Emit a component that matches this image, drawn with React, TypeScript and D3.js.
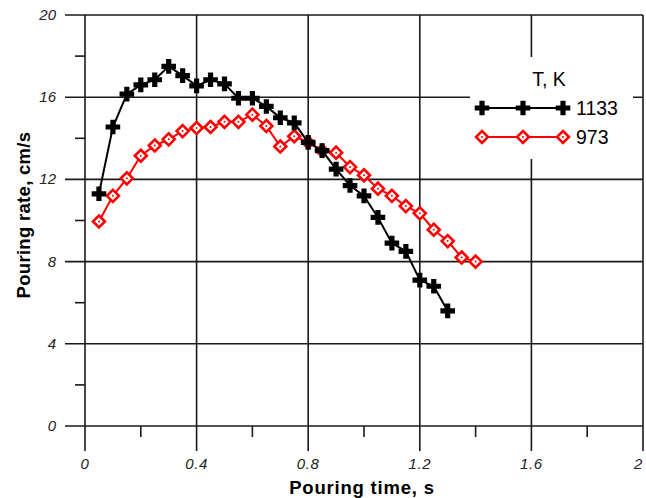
import React from "react";
import * as d3 from "d3";

const timeTicks = [0, 0.4, 0.8, 1.2, 1.6, 2];
const timeMinor = [0.2, 0.6, 1.0, 1.4, 1.8];
const rateTicks = [0, 4, 8, 12, 16, 20];
const rateMinor = [2, 6, 10, 14, 18];

const time1133 = [0.05, 0.1, 0.15, 0.2, 0.25, 0.3, 0.35, 0.4, 0.45, 0.5, 0.55, 0.6, 0.65, 0.7, 0.75, 0.8, 0.85, 0.9, 0.95, 1.0, 1.05, 1.1, 1.15, 1.2, 1.25, 1.3];
const rate1133 = [11.3, 14.55, 16.15, 16.6, 16.85, 17.5, 17.05, 16.55, 16.85, 16.65, 15.95, 15.95, 15.55, 15.0, 14.75, 13.8, 13.4, 12.5, 11.7, 11.2, 10.15, 8.9, 8.5, 7.1, 6.8, 5.6];

const time973 = [0.05, 0.1, 0.15, 0.2, 0.25, 0.3, 0.35, 0.4, 0.45, 0.5, 0.55, 0.6, 0.65, 0.7, 0.75, 0.8, 0.85, 0.9, 0.95, 1.0, 1.05, 1.1, 1.15, 1.2, 1.25, 1.3, 1.35, 1.4];
const rate973 = [9.95, 11.2, 12.05, 13.15, 13.65, 13.95, 14.35, 14.5, 14.55, 14.8, 14.8, 15.15, 14.6, 13.6, 14.1, 13.8, 13.4, 13.3, 12.6, 12.2, 11.55, 11.2, 10.7, 10.35, 9.55, 9.0, 8.2, 8.0];

const legendLabels = ["1133", "973"];
const legendTitle = "T, K";
const xTitle = "Pouring time, s";
const yTitle = "Pouring rate, cm/s";

const W = 646;
const H = 498;
const X0 = 85;
const X1 = 643;
const Y0 = 426;
const Y1 = 15;
const GRID = "#1a1a1a";
const FONT = "'Liberation Sans', Arial, sans-serif";

function Plus({ x, y }: { x: number; y: number }) {
  const a = 7.3;
  const t = 2.6;
  return (
    <path
      d={`M${x - a},${y - t}H${x - t}V${y - a}H${x + t}V${y - t}H${x + a}V${y + t}H${x + t}V${y + a}H${x - t}V${y + t}H${x - a}Z`}
      fill="#000"
    />
  );
}

function Diamond({ x, y }: { x: number; y: number }) {
  const r = 6;
  return (
    <g>
      <path
        d={`M${x},${y - r}L${x + r},${y}L${x},${y + r}L${x - r},${y}Z`}
        fill="#fff"
        stroke="#ff0000"
        strokeWidth={2.6}
      />
      <circle cx={x} cy={y} r={1} fill="#ff0000" />
    </g>
  );
}

export default function App() {
  const x = d3.scaleLinear().domain([0, 2]).range([X0, X1]);
  const y = d3.scaleLinear().domain([0, 20]).range([Y0, Y1]);
  const line = d3
    .line<[number, number]>()
    .x((d) => x(d[0]))
    .y((d) => y(d[1]));
  const d1133 = time1133.map((t, i) => [t, rate1133[i]] as [number, number]);
  const d973 = time973.map((t, i) => [t, rate973[i]] as [number, number]);

  const legX0 = 470;
  const legX1 = 633;
  const legY0 = 57;
  const legY1 = 159;
  const rowY = [108, 137];
  const lineX = [482, 523, 563];

  return (
    <svg
      width={W}
      height={H}
      style={{ position: "absolute", left: 0, top: 0, background: "#fff" }}
      fontFamily={FONT}
    >
      <rect x={0} y={0} width={W} height={H} fill="#fff" />
      {/* vertical grid & x ticks */}
      {timeTicks.map((t) => (
        <line key={"vx" + t} x1={x(t)} x2={x(t)} y1={Y1} y2={Y0 + 25} stroke={GRID} strokeWidth={1.6} />
      ))}
      {timeMinor.map((t) => (
        <line key={"mx" + t} x1={x(t)} x2={x(t)} y1={Y0} y2={Y0 + 11} stroke={GRID} strokeWidth={1.6} />
      ))}
      {/* horizontal grid & y ticks */}
      {rateTicks.map((v) => (
        <line key={"hy" + v} x1={X0 - 20} x2={X1} y1={y(v)} y2={y(v)} stroke={GRID} strokeWidth={1.6} />
      ))}
      {rateMinor.map((v) => (
        <line key={"my" + v} x1={X0 - 10} x2={X0} y1={y(v)} y2={y(v)} stroke={GRID} strokeWidth={1.6} />
      ))}

      {/* tick labels */}
      {timeTicks.map((t) => (
        <text
          key={"tx" + t}
          x={x(t)}
          y={469}
          textAnchor={t === 2 ? "end" : "middle"}
          fontSize={15}
          fontStyle="italic"
          letterSpacing={0.6}
          fill="#222"
        >
          {String(t)}
        </text>
      ))}
      {rateTicks.map((v) => (
        <text
          key={"ty" + v}
          x={56}
          y={y(v) + 5}
          textAnchor="end"
          fontSize={15}
          fontStyle="italic"
          fill="#222"
        >
          {String(v)}
        </text>
      ))}

      {/* axis titles */}
      <text x={362} y={494} textAnchor="middle" fontSize={18.5} fontWeight="bold" letterSpacing={0.8} fill="#000">
        {xTitle}
      </text>
      <text
        transform={`translate(30,${215}) rotate(-90)`}
        textAnchor="middle"
        fontSize={18.5}
        fontWeight="bold"
        letterSpacing={0.3}
        fill="#000"
      >
        {yTitle}
      </text>

      {/* series */}
      <path d={line(d973) || ""} fill="none" stroke="#ff0000" strokeWidth={2} />
      {d973.map((d, i) => (
        <Diamond key={"r" + i} x={x(d[0])} y={y(d[1])} />
      ))}
      <path d={line(d1133) || ""} fill="none" stroke="#000" strokeWidth={2} />
      {d1133.map((d, i) => (
        <Plus key={"b" + i} x={x(d[0])} y={y(d[1])} />
      ))}

      {/* legend */}
      <rect x={legX0} y={legY0} width={legX1 - legX0} height={legY1 - legY0} fill="#fff" />
      <text x={549} y={86} textAnchor="middle" fontSize={19.5} fill="#000">
        {legendTitle}
      </text>
      <line x1={lineX[0]} x2={lineX[2]} y1={rowY[0]} y2={rowY[0]} stroke="#000" strokeWidth={2} />
      {lineX.map((lx) => (
        <Plus key={"lb" + lx} x={lx} y={rowY[0]} />
      ))}
      <text x={576} y={rowY[0] + 7} fontSize={19.5} fill="#000">
        {legendLabels[0]}
      </text>
      <line x1={lineX[0]} x2={lineX[2]} y1={rowY[1]} y2={rowY[1]} stroke="#ff0000" strokeWidth={2} />
      {lineX.map((lx) => (
        <Diamond key={"lr" + lx} x={lx} y={rowY[1]} />
      ))}
      <text x={576} y={rowY[1] + 7} fontSize={19.5} fill="#000">
        {legendLabels[1]}
      </text>
    </svg>
  );
}
